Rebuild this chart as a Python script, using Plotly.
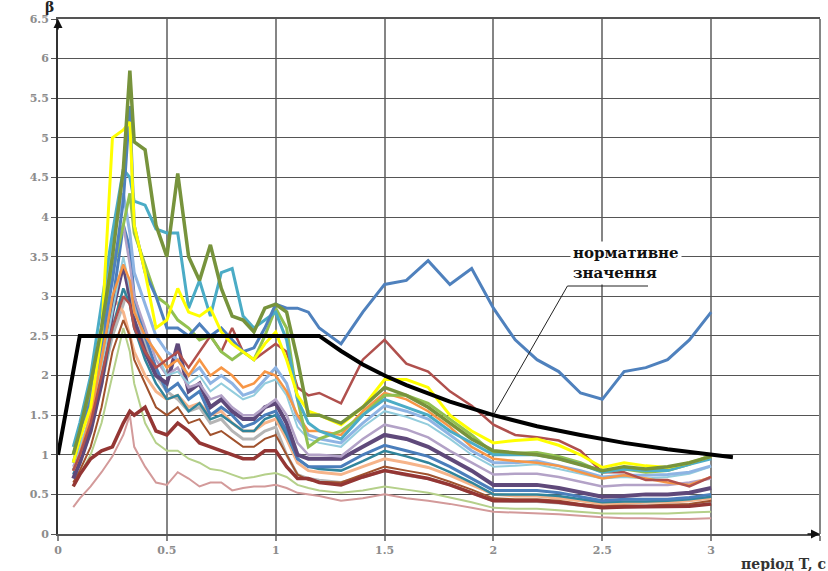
import plotly.graph_objects as go

# ---------------- data ----------------
T_GRID = [0.07, 0.1, 0.15, 0.2, 0.25, 0.3, 0.33, 0.35, 0.4, 0.45, 0.5, 0.55, 0.6, 0.65, 0.7,
          0.75, 0.8, 0.85, 0.9, 0.95, 1.0, 1.05, 1.1, 1.15, 1.2, 1.3, 1.4, 1.5, 1.6, 1.7,
          1.8, 1.9, 2.0, 2.1, 2.2, 2.3, 2.4, 2.5, 2.6, 2.7, 2.8, 2.9, 3.0]

rec_gray = [0.7, 0.9, 1.3, 1.9, 2.5, 2.9, 3.2, 2.9, 2.4, 2.0, 1.8, 1.7, 1.55, 1.6, 1.4, 1.45, 1.3, 1.2, 1.2, 1.3, 1.35,
            1.0, 0.75, 0.7, 0.68, 0.65, 0.72, 0.8, 0.74, 0.7, 0.62, 0.52, 0.42, 0.41, 0.41, 0.39, 0.36, 0.33, 0.34, 0.35, 0.35, 0.37, 0.4]
rec_peach = [0.8, 1.0, 1.5, 2.3, 3.0, 2.8, 2.5, 2.3, 2.0, 1.8, 1.7, 1.75, 1.6, 1.65, 1.5, 1.55, 1.4, 1.3, 1.3, 1.4, 1.45,
             1.2, 0.9, 0.8, 0.78, 0.75, 0.85, 0.95, 0.9, 0.84, 0.74, 0.62, 0.5, 0.48, 0.48, 0.45, 0.42, 0.38, 0.39, 0.4, 0.4, 0.42, 0.45]
rec_brown = [0.65, 0.8, 1.1, 1.6, 2.3, 2.7, 2.5, 2.2, 1.9, 1.6, 1.5, 1.6, 1.4, 1.45, 1.25, 1.3, 1.2, 1.1, 1.1, 1.2, 1.25,
             1.0, 0.75, 0.68, 0.66, 0.65, 0.75, 0.85, 0.8, 0.75, 0.66, 0.56, 0.45, 0.44, 0.44, 0.42, 0.38, 0.35, 0.36, 0.36, 0.37, 0.38, 0.42]
rec_pink = [0.34, 0.45, 0.6, 0.78, 0.98, 1.25, 1.5, 1.1, 0.85, 0.65, 0.62, 0.78, 0.7, 0.6, 0.65, 0.65, 0.55, 0.58, 0.6, 0.6, 0.62,
            0.58, 0.52, 0.5, 0.48, 0.42, 0.45, 0.5, 0.45, 0.42, 0.38, 0.33, 0.28, 0.27, 0.26, 0.25, 0.23, 0.21, 0.2, 0.2, 0.19, 0.19, 0.2]
rec_lightgreen = [0.6, 0.75, 1.0, 1.4, 2.0, 2.6, 2.3, 1.9, 1.4, 1.15, 1.05, 1.05, 0.95, 0.9, 0.82, 0.8, 0.75, 0.7, 0.72, 0.75, 0.77,
                  0.72, 0.62, 0.58, 0.55, 0.52, 0.55, 0.6, 0.56, 0.52, 0.46, 0.4, 0.33, 0.32, 0.32, 0.3, 0.28, 0.26, 0.26, 0.26, 0.26, 0.27, 0.28]
rec_darkred = [0.6, 0.75, 0.95, 1.05, 1.1, 1.4, 1.55, 1.5, 1.6, 1.3, 1.25, 1.4, 1.3, 1.15, 1.1, 1.05, 1.0, 0.95, 0.95, 1.05, 1.05,
               0.85, 0.7, 0.7, 0.65, 0.62, 0.72, 0.8, 0.75, 0.7, 0.62, 0.52, 0.42, 0.42, 0.42, 0.4, 0.36, 0.33, 0.34, 0.34, 0.34, 0.35, 0.38]
rec_tealdark = [0.75, 0.95, 1.35, 1.9, 2.6, 3.1, 2.9, 2.6, 2.2, 1.9, 1.7, 1.75, 1.55, 1.65, 1.45, 1.5, 1.4, 1.3, 1.3, 1.45, 1.5,
                1.25, 0.95, 0.85, 0.82, 0.8, 0.92, 1.05, 0.98, 0.9, 0.78, 0.65, 0.5, 0.5, 0.5, 0.48, 0.44, 0.4, 0.41, 0.41, 0.42, 0.44, 0.47]
rec_blue2 = [0.8, 1.0, 1.4, 2.0, 2.9, 3.9, 3.6, 3.0, 2.5, 2.1, 1.8, 1.9, 1.7, 1.8, 1.5, 1.6, 1.5, 1.35, 1.4, 1.5, 1.55,
             1.3, 0.95, 0.85, 0.85, 0.85, 1.0, 1.12, 1.05, 0.98, 0.85, 0.7, 0.55, 0.55, 0.55, 0.52, 0.47, 0.42, 0.44, 0.44, 0.44, 0.46, 0.5]
rec_purple = [0.7, 0.9, 1.3, 1.9, 2.8, 3.4, 3.0, 2.7, 2.3, 2.0, 1.9, 2.4, 1.8, 1.9, 1.6, 1.7, 1.55, 1.45, 1.45, 1.6, 1.65,
              1.4, 1.0, 0.95, 0.95, 0.95, 1.1, 1.25, 1.2, 1.1, 0.95, 0.8, 0.62, 0.62, 0.62, 0.58, 0.52, 0.47, 0.48, 0.5, 0.5, 0.52, 0.58]
rec_lavender = [0.85, 1.05, 1.5, 2.3, 3.4, 3.9, 3.4, 3.0, 2.6, 2.2, 2.0, 2.1, 1.85, 1.9, 1.7, 1.75, 1.6, 1.5, 1.5, 1.6, 1.7,
                1.5, 1.15, 1.0, 1.0, 0.98, 1.2, 1.38, 1.32, 1.22, 1.05, 0.9, 0.75, 0.76, 0.76, 0.72, 0.66, 0.6, 0.62, 0.62, 0.62, 0.65, 0.7]
rec_lightblue = [0.9, 1.1, 1.5, 2.1, 2.8, 3.5, 3.1, 2.8, 2.5, 2.3, 2.0, 2.05, 1.9, 2.0, 1.8, 1.9, 1.8, 1.7, 1.75, 1.9, 1.95,
                 1.75, 1.35, 1.2, 1.15, 1.1, 1.35, 1.55, 1.48, 1.38, 1.2, 1.0, 0.85, 0.86, 0.88, 0.82, 0.76, 0.7, 0.72, 0.7, 0.72, 0.76, 0.85]
rec_cornflower = [1.0, 1.2, 1.7, 2.6, 3.7, 4.3, 3.8, 3.3, 2.9, 2.5, 2.3, 2.2, 2.0, 2.1, 1.9, 2.0, 1.9, 1.75, 1.8, 1.95, 2.1,
                  1.9, 1.45, 1.25, 1.2, 1.15, 1.4, 1.62, 1.55, 1.45, 1.25, 1.05, 0.9, 0.9, 0.92, 0.86, 0.8, 0.72, 0.74, 0.74, 0.75, 0.78, 0.86]
rec_orange = [0.8, 1.0, 1.5, 2.2, 3.0, 3.4, 3.2, 2.8, 2.5, 2.3, 2.1, 2.2, 2.0, 2.2, 2.0, 2.1, 2.0, 1.85, 1.9, 2.05, 2.0,
              1.8, 1.5, 1.3, 1.3, 1.25, 1.55, 1.78, 1.7, 1.55, 1.35, 1.1, 0.95, 0.92, 0.9, 0.86, 0.78, 0.7, 0.74, 0.7, 0.65, 0.62, 0.72]
rec_red = [0.8, 1.0, 1.4, 2.0, 2.6, 3.0, 2.9, 2.6, 2.3, 2.1, 2.2, 2.3, 2.1, 2.3, 2.5, 2.3, 2.6, 2.3, 2.2, 2.3, 2.4,
           2.3, 1.85, 1.75, 1.78, 1.65, 2.2, 2.45, 2.15, 2.05, 1.8, 1.62, 1.38, 1.25, 1.22, 1.18, 1.05, 0.78, 0.78, 0.68, 0.68, 0.6, 0.72]
rec_green = [1.0, 1.3, 1.8, 2.6, 3.3, 3.9, 4.3, 3.8, 3.4, 3.0, 2.9, 2.7, 2.6, 2.45, 2.5, 2.3, 2.2, 2.3, 2.2, 2.5, 2.85,
             2.6, 1.7, 1.1, 1.2, 1.3, 1.5, 1.75, 1.75, 1.65, 1.45, 1.25, 1.02, 1.02, 1.03, 0.98, 0.9, 0.78, 0.82, 0.78, 0.8, 0.88, 1.0]
rec_teal = [1.1, 1.4, 2.0, 2.9, 3.8, 4.6, 4.5, 4.2, 4.15, 3.85, 3.8, 3.8, 2.85, 3.2, 2.75, 3.3, 3.35, 2.75, 2.6, 2.7, 2.8,
            2.45, 1.7, 1.4, 1.3, 1.2, 1.5, 1.7, 1.6, 1.5, 1.3, 1.15, 1.0, 1.0, 1.0, 0.95, 0.88, 0.78, 0.82, 0.8, 0.8, 0.88, 0.95]
rec_steel = [0.9, 1.2, 1.7, 2.4, 3.2, 4.2, 5.4, 3.9, 3.3, 3.0, 2.6, 2.6, 2.5, 2.65, 2.5, 2.6, 2.45, 2.3, 2.35, 2.6, 2.9,
             2.85, 2.85, 2.8, 2.6, 2.4, 2.8, 3.15, 3.2, 3.45, 3.15, 3.35, 2.85, 2.45, 2.2, 2.05, 1.78, 1.7, 2.05, 2.1, 2.2, 2.45, 2.8]
rec_yellow = [0.9, 1.2, 1.6, 2.5, 5.0, 5.1, 5.2, 3.9, 3.3, 2.6, 2.7, 3.1, 2.8, 2.75, 2.85, 2.55, 2.4, 2.3, 2.2, 2.4, 2.55,
              2.2, 1.75, 1.55, 1.5, 1.38, 1.6, 1.95, 1.95, 1.85, 1.5, 1.3, 1.15, 1.18, 1.2, 1.12, 1.0, 0.84, 0.9, 0.86, 0.84, 0.9, 0.98]
rec_olive = [1.0, 1.3, 1.9, 2.6, 3.5, 4.6, 5.85, 4.95, 4.85, 3.9, 3.5, 4.55, 3.5, 3.2, 3.65, 3.1, 2.75, 2.7, 2.55, 2.85, 2.9,
             2.8, 2.2, 1.5, 1.5, 1.4, 1.6, 1.85, 1.75, 1.6, 1.4, 1.2, 1.05, 1.02, 1.0, 0.95, 0.88, 0.8, 0.85, 0.82, 0.85, 0.9, 0.98]

NORM_T = [0.0, 0.1, 1.2, 1.3, 1.4, 1.5, 1.6, 1.8, 2.0, 2.2, 2.4, 2.6, 2.8, 3.0, 3.1]
NORM_BETA = [1.0, 2.5, 2.5, 2.31, 2.14, 2.0, 1.88, 1.67, 1.5, 1.36, 1.25, 1.15, 1.07, 1.0, 0.97]

X_TICKS = [0, 0.5, 1, 1.5, 2, 2.5, 3, 3.5]
Y_TICKS = [0, 0.5, 1, 1.5, 2, 2.5, 3, 3.5, 4, 4.5, 5, 5.5, 6, 6.5]

# ---------------- styles ----------------
records = [
    (rec_gray, "#b5b5b5", 3),
    (rec_peach, "#f6b48a", 3),
    (rec_brown, "#a0522d", 2),
    (rec_pink, "#d39a9a", 2),
    (rec_lightgreen, "#b5d08a", 2),
    (rec_darkred, "#943634", 3.5),
    (rec_tealdark, "#31859c", 2.5),
    (rec_blue2, "#4a7ebb", 3),
    (rec_purple, "#5f497a", 4),
    (rec_lavender, "#b3a2c7", 2.5),
    (rec_lightblue, "#93cddd", 2),
    (rec_cornflower, "#8eb4e3", 3),
    (rec_orange, "#f79646", 2.5),
    (rec_red, "#b0504d", 2.5),
    (rec_green, "#92c050", 3),
    (rec_teal, "#4bacc6", 3),
    (rec_steel, "#4f81bd", 3),
    (rec_yellow, "#ffff00", 3),
    (rec_olive, "#77933c", 3.5),
]

fig = go.Figure()
for vals, color, width in records:
    fig.add_trace(go.Scatter(x=T_GRID, y=vals, mode="lines",
                             line=dict(color=color, width=width),
                             showlegend=False, hoverinfo="skip"))

fig.add_trace(go.Scatter(x=NORM_T, y=NORM_BETA, mode="lines",
                         line=dict(color="black", width=4),
                         showlegend=False, hoverinfo="skip"))

tickfont = dict(family="DejaVu Serif", size=11, color="#8c8c8c", weight="bold")

fig.update_layout(
    width=828, height=571,
    margin=dict(l=58, r=8, t=19, b=37, autoexpand=False),
    paper_bgcolor="white", plot_bgcolor="white",
    xaxis=dict(range=[0, 3.5], tickvals=X_TICKS, ticktext=[f"{v:g}" for v in X_TICKS],
               showgrid=True, gridcolor="#858585", gridwidth=2,
               ticks="outside", ticklen=5, tickcolor="#858585", tickwidth=2,
               showline=True, linecolor="#555555", linewidth=1.5, mirror=True,
               zeroline=False, tickfont=tickfont, automargin=False),
    yaxis=dict(range=[0, 6.5], tickvals=Y_TICKS, ticktext=[f"{v:g}" for v in Y_TICKS],
               showgrid=True, gridcolor="#555555", gridwidth=1,
               ticks="outside", ticklen=5, tickcolor="#555555", tickwidth=1,
               showline=True, linecolor="#333333", linewidth=2,
               zeroline=False, tickfont=tickfont, automargin=False),
)

# right frame line (like vertical gridline)
fig.add_shape(type="line", xref="paper", yref="paper", x0=1, x1=1, y0=0, y1=1,
              line=dict(color="#858585", width=2))

# leader line for annotation
fig.add_shape(type="path", xref="x", yref="y",
              path="M 2.0,1.5 L 2.34,3.13 L 2.71,3.13",
              line=dict(color="#222222", width=1))

fig.add_annotation(x=2.35, y=3.42, xref="x", yref="y", xanchor="left", yanchor="middle",
                   text="нормативне<br>значення", showarrow=False, align="left",
                   bgcolor="white", borderpad=2,
                   font=dict(family="DejaVu Serif", size=15, color="#111111", weight="bold"))

# axis arrows
fig.add_annotation(x=0, y=1.0, xref="paper", yref="paper", ax=0, ay=12, text="",
                   showarrow=True, arrowhead=2, arrowsize=1.2, arrowwidth=1.5, arrowcolor="#111111")
fig.add_annotation(x=1.0, y=0, xref="paper", yref="paper", ax=-14, ay=0, text="",
                   showarrow=True, arrowhead=2, arrowsize=1.2, arrowwidth=1.5, arrowcolor="#111111")

# axis titles
fig.add_annotation(x=-0.002, y=1.004, xref="paper", yref="paper", xanchor="right", yanchor="bottom",
                   text="β", showarrow=False,
                   font=dict(family="DejaVu Serif", size=14, color="#222222", weight="bold"))
fig.add_annotation(x=1.0105, y=-0.038, xref="paper", yref="paper", xanchor="right", yanchor="top",
                   text="період T, с", showarrow=False,
                   font=dict(family="DejaVu Serif", size=14, color="#333333", weight="bold"))

fig.write_html("out.html", config={"displayModeBar": False},
               post_script="document.body.style.margin='0';")
